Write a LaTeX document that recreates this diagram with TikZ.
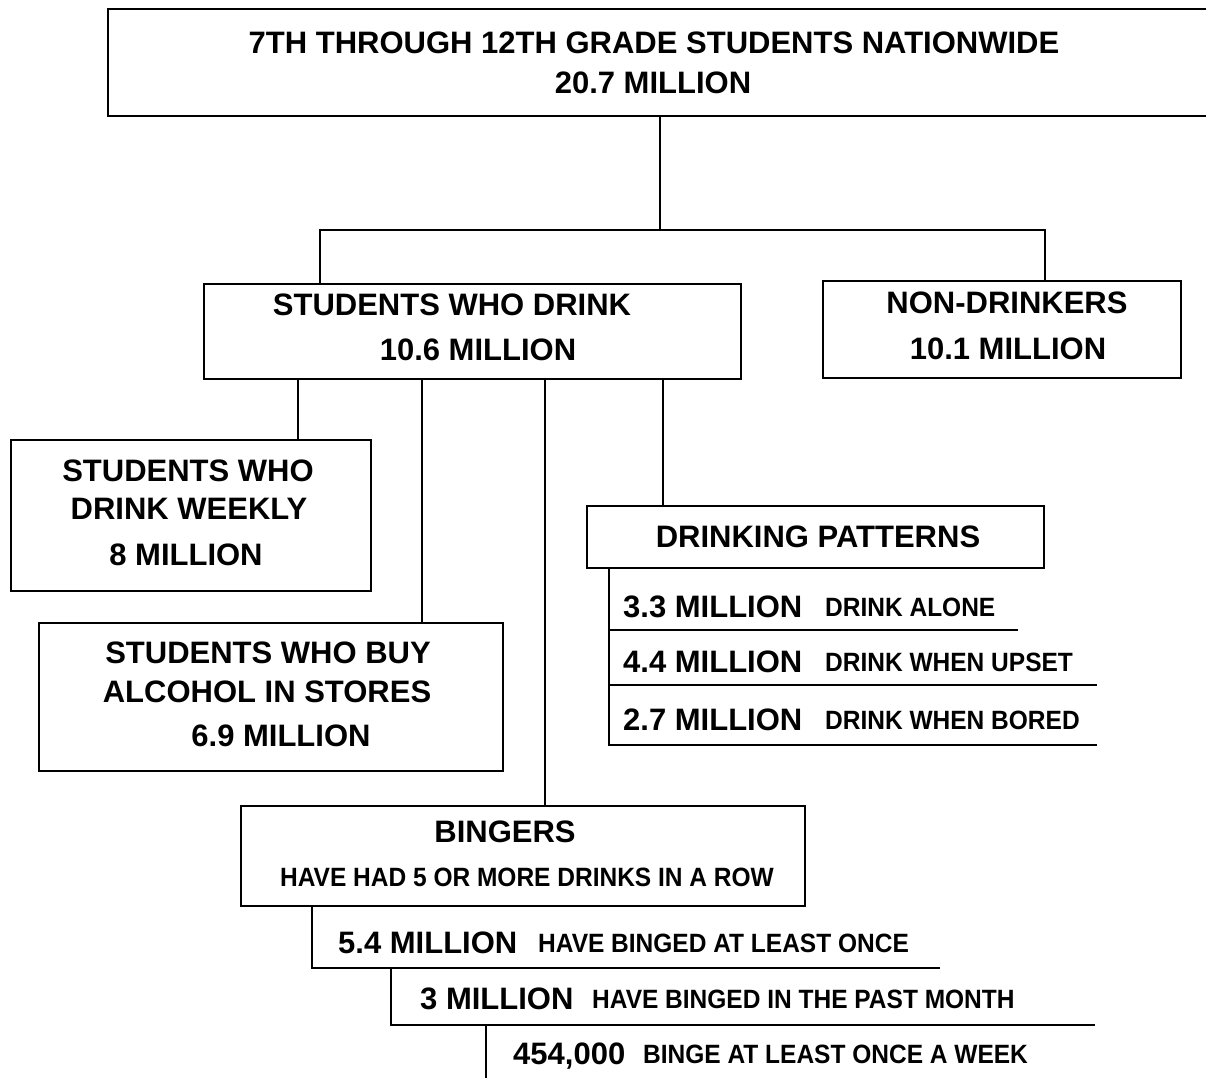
\documentclass[tikz,border=0pt]{standalone}
\usepackage{fontspec}
\setmainfont{Liberation Sans}
\newcommand{\tallsm}[1]{\scalebox{1}[1.08]{#1}}
\begin{document}
\begin{tikzpicture}[x=1pt,y=-1pt,
  box/.style={draw, line width=2.2pt, rectangle, inner sep=0pt, anchor=north west},
  conn/.style={line width=2.2pt},
  big/.style={font=\fontsize{31}{31}\selectfont\bfseries, inner sep=0pt, text depth=0pt},
  small/.style={font=\fontsize{24.5}{25}\selectfont\bfseries, inner sep=0pt, text depth=0pt}]
\useasboundingbox (0,0) rectangle (1206,1077);
\clip (0,0) rectangle (1206,1077);
% boxes
\node[box, minimum width=1110pt, minimum height=107pt] (top) at (107,8) {};
\node[box, minimum width=537pt, minimum height=95pt] (swd) at (203,283) {};
\node[box, minimum width=358pt, minimum height=97pt] (nd) at (822,280) {};
\node[box, minimum width=360pt, minimum height=151pt] (weekly) at (10,439) {};
\node[box, minimum width=464pt, minimum height=148pt] (buy) at (38,622) {};
\node[box, minimum width=457pt, minimum height=62pt] (dp) at (586,505) {};
\node[box, minimum width=564pt, minimum height=100pt] (bing) at (240,805) {};
% texts
\node[big] (t1) at (654,43) {7TH THROUGH 12TH GRADE STUDENTS NATIONWIDE};
\node[big] (t2) at (653,83) {20.7 MILLION};
\node[big] (s1) at (452,305) {STUDENTS WHO DRINK};
\node[big] (s2) at (478,350) {10.6 MILLION};
\node[big] (n1) at (1007,303) {NON-DRINKERS};
\node[big] (n2) at (1008,349) {10.1 MILLION};
\node[big] (w1) at (188,471) {STUDENTS WHO};
\node[big] (w2) at (189,509) {DRINK WEEKLY};
\node[big] (w3) at (186,555) {8 MILLION};
\node[big] (b1) at (268,653) {STUDENTS WHO BUY};
\node[big] (b2) at (267,692) {ALCOHOL IN STORES};
\node[big] (b3) at (281,736) {6.9 MILLION};
\node[big] (d0) at (818,537) {DRINKING PATTERNS};
\node[big, anchor=west] (d1) at (623,607) {3.3 MILLION};
\node[small, anchor=west] (d1b) at (825,607) {\tallsm{DRINK ALONE}};
\node[big, anchor=west] (d2) at (623,662) {4.4 MILLION};
\node[small, anchor=west] (d2b) at (825,662) {\tallsm{DRINK WHEN UPSET}};
\node[big, anchor=west] (d3) at (623,720) {2.7 MILLION};
\node[small, anchor=west] (d3b) at (825,720) {\tallsm{DRINK WHEN BORED}};
\node[big] (g1) at (505,832) {BINGERS};
\node[small] (g2) at (527,877) {\tallsm{HAVE HAD 5 OR MORE DRINKS IN A ROW}};
\node[big, anchor=west] (r1) at (338,943) {5.4 MILLION};
\node[small, anchor=west] (r1b) at (538,943) {\tallsm{HAVE BINGED AT LEAST ONCE}};
\node[big, anchor=west] (r2) at (420,999) {3 MILLION};
\node[small, anchor=west] (r2b) at (592,999) {\tallsm{HAVE BINGED IN THE PAST MONTH}};
\node[big, anchor=west] (r3) at (513,1054) {454,000};
\node[small, anchor=west] (r3b) at (643,1054) {\tallsm{BINGE AT LEAST ONCE A WEEK}};
% connector coordinates
\coordinate (xa) at (660,230);
\coordinate (xl) at (320,230);
\coordinate (xr) at (1045,230);
\coordinate (k1) at (298,0);
\coordinate (k2) at (422,0);
\coordinate (k3) at (545,0);
\coordinate (k4) at (663,0);
\coordinate (kd) at (609,0);
\coordinate (kb1) at (312,0);
\coordinate (kb2) at (391,0);
\coordinate (kb3) at (486,0);
% connectors
\draw[conn] (top.south -| xa) -- (xa);
\draw[conn] (swd.north -| xl) -- (xl) -- (xr) -- (nd.north -| xr);
\draw[conn] (swd.south -| k1) -- (weekly.north -| k1);
\draw[conn] (swd.south -| k2) -- (buy.north -| k2);
\draw[conn] (swd.south -| k3) -- (bing.north -| k3);
\draw[conn] (swd.south -| k4) -- (dp.north -| k4);
% drinking patterns rows
\coordinate (e1) at (1018,630);
\coordinate (e2) at (1097,685);
\coordinate (e3) at (1097,745);
\draw[conn] (dp.south -| kd) -- (kd |- e3) -- (e3);
\draw[conn] (kd |- e1) -- (e1);
\draw[conn] (kd |- e2) -- (e2);
% bingers rows
\coordinate (f1) at (940,968);
\coordinate (f2) at (1095,1025);
\coordinate (f3) at (486,1090);
\draw[conn] (bing.south -| kb1) -- (kb1 |- f1) -- (f1);
\draw[conn] (kb2 |- f1) -- (kb2 |- f2) -- (f2);
\draw[conn] (kb3 |- f2) -- (f3);
\end{tikzpicture}
\end{document}
